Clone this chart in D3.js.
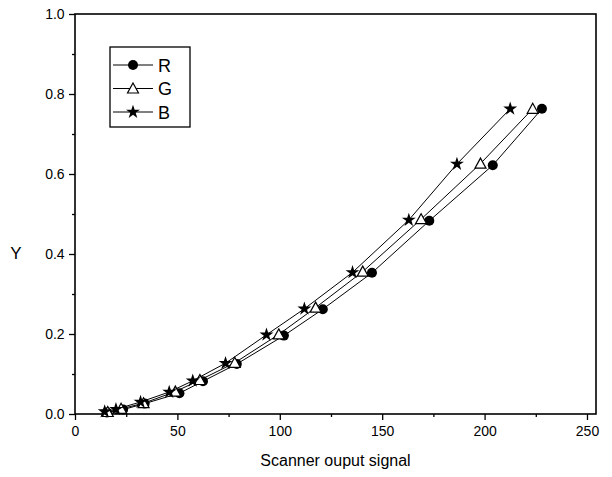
<!DOCTYPE html>
<html>
<head>
<meta charset="utf-8">
<script src="https://cdn.jsdelivr.net/npm/d3@7"></script>
<style>
  body { margin: 0; background: #fff; }
  text { font-family: "Liberation Sans", Arial, sans-serif; fill: #000; }
</style>
</head>
<body>
<svg width="612" height="477"></svg>
<script>
// data
var rX = [15.5, 23.5, 34, 51, 62.5, 79, 102, 121, 145, 173, 204, 228];
var rY = [0.004, 0.011, 0.026, 0.052, 0.082, 0.125, 0.196, 0.262, 0.353, 0.483, 0.622, 0.763];
var gX = [16, 22.5, 33.5, 49, 61, 78, 99.5, 117.5, 140.5, 169, 198, 223.5];
var gY = [0.005, 0.013, 0.027, 0.056, 0.085, 0.128, 0.199, 0.266, 0.356, 0.487, 0.626, 0.763];
var bX = [14.5, 20, 32, 46, 57.5, 73.5, 93.5, 112, 135.5, 163, 186.5, 212.5];
var bY = [0.006, 0.012, 0.03, 0.055, 0.083, 0.127, 0.198, 0.263, 0.354, 0.485, 0.625, 0.763];
var seriesNames = ["R", "G", "B"];
var xTicks = [0, 50, 100, 150, 200, 250];
var yTicks = [0, 0.2, 0.4, 0.6, 0.8, 1.0];
// end of data

var svg = d3.select("svg"),
    plotL = 75, plotR = 596, plotT = 14, plotB = 414;

var x = d3.scaleLinear().domain([0, 254.4]).range([plotL, plotR]);
var y = d3.scaleLinear().domain([0, 1]).range([plotB, plotT]);

var series = [
  {name: seriesNames[0], xs: rX, ys: rY, shape: "circle"},
  {name: seriesNames[1], xs: gX, ys: gY, shape: "triangle"},
  {name: seriesNames[2], xs: bX, ys: bY, shape: "star"}
];

function marker(sel, shape) {
  if (shape === "circle") {
    sel.append("circle").attr("r", 5).attr("fill", "#000");
  } else if (shape === "triangle") {
    sel.append("path").attr("d", "M0,-5.5L5.5,4.5L-5.5,4.5Z")
      .attr("fill", "#fff").attr("stroke", "#000").attr("stroke-width", 1.2);
  } else {
    sel.append("path").attr("d", d3.symbol(d3.symbolStar, 60)())
      .attr("fill", "#000");
  }
}

// axes
var xAxis = d3.axisBottom(x).tickValues(xTicks).tickSize(6).tickFormat(d3.format("d"));
var yAxis = d3.axisLeft(y).tickValues(yTicks).tickSize(6).tickFormat(d3.format(".1f"));

var gx = svg.append("g").attr("transform", "translate(0," + plotB + ")").call(xAxis);
var gy = svg.append("g").attr("transform", "translate(" + plotL + ",0)").call(yAxis);

// minor ticks
svg.append("g").attr("transform", "translate(0," + plotB + ")")
  .call(d3.axisBottom(x).tickValues([25, 75, 125, 175, 225]).tickSize(3).tickFormat(""));
svg.append("g").attr("transform", "translate(" + plotL + ",0)")
  .call(d3.axisLeft(y).tickValues([0.1, 0.3, 0.5, 0.7, 0.9]).tickSize(3).tickFormat(""));

svg.selectAll(".domain").remove();
svg.selectAll(".tick line").attr("stroke", "#000").attr("stroke-width", 1.3);
gx.selectAll("text").attr("font-size", 14).attr("dy", "0.95em");
gy.selectAll("text").attr("font-size", 14).attr("dx", "-0.1em");

svg.append("rect")
  .attr("x", plotL).attr("y", plotT)
  .attr("width", plotR - plotL).attr("height", plotB - plotT)
  .attr("fill", "none").attr("stroke", "#000").attr("stroke-width", 1.6);

svg.append("text").attr("x", (plotL + plotR) / 2).attr("y", 466)
  .attr("text-anchor", "middle").attr("font-size", 16)
  .text("Scanner ouput signal");
svg.append("text").attr("x", 16).attr("y", 259)
  .attr("text-anchor", "middle").attr("font-size", 17)
  .text("Y");

// lines and markers
var line = d3.line().x(function(d) { return x(d[0]); }).y(function(d) { return y(d[1]); });

series.forEach(function(s) {
  var pts = s.xs.map(function(v, i) { return [v, s.ys[i]]; });
  svg.append("path").datum(pts)
    .attr("d", line).attr("fill", "none")
    .attr("stroke", "#000").attr("stroke-width", 1);
  svg.selectAll(null).data(pts).enter().append("g")
    .attr("transform", function(d) { return "translate(" + x(d[0]) + "," + y(d[1]) + ")"; })
    .each(function() { marker(d3.select(this), s.shape); });
});

// legend
var lg = svg.append("g");
lg.append("rect").attr("x", 110).attr("y", 47).attr("width", 80).attr("height", 80)
  .attr("fill", "#fff").attr("stroke", "#000").attr("stroke-width", 1.3);
series.forEach(function(s, i) {
  var ly = 65 + i * 23.5;
  lg.append("line").attr("x1", 113).attr("x2", 153).attr("y1", ly).attr("y2", ly)
    .attr("stroke", "#000").attr("stroke-width", 1);
  var m = lg.append("g").attr("transform", "translate(133," + ly + ")");
  marker(m, s.shape);
  lg.append("text").attr("x", 158).attr("y", ly + 6.5)
    .attr("font-size", 18).text(s.name);
});
</script>
</body>
</html>
